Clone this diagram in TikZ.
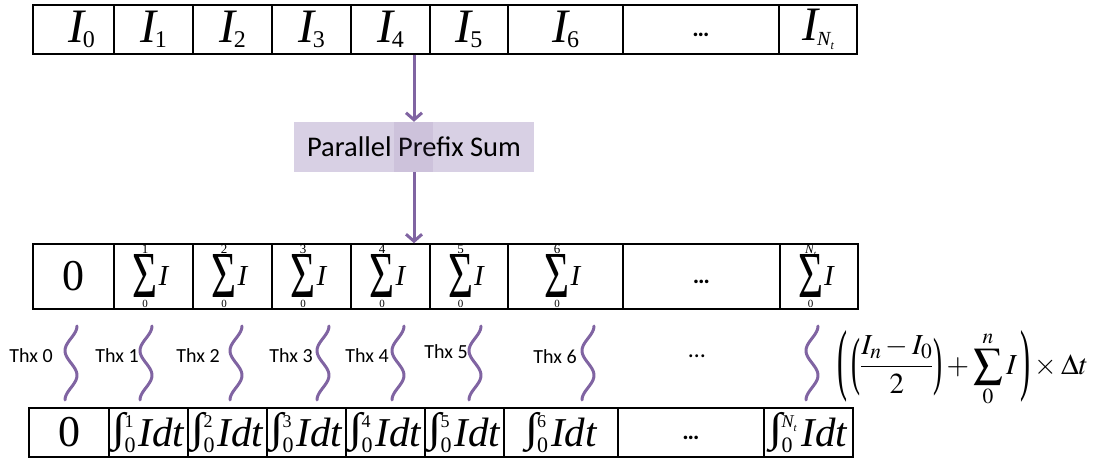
\documentclass[tikz,border=0pt]{standalone}
\usepackage{mathptmx}
\usepackage{fontspec}
\usepackage{graphicx}
\setmainfont{Liberation Serif}
\newfontfamily\calibri{Carlito}
\usetikzlibrary{arrows.meta}

\definecolor{accent}{HTML}{8064A2}
\definecolor{boxfill}{RGB}{216,208,228}

% font size shortcut
\newcommand\fs[1]{\fontsize{#1}{#1}\selectfont}

% I with a subscript
\newcommand\Ival[1]{{\fs{48}\itshape I}\kern-1pt\raisebox{-5pt}{\fs{24}#1}}

% N with t subscript: N size, t size, t drop
\newcommand\Nt[3]{{\itshape\fs{#1}N}\raisebox{-#3pt}{\itshape\fs{#2}t}}

% tall summation sign and integral sign, sitting on the baseline
\newcommand\bigsum{\resizebox{25pt}{43pt}{\raisebox{\depth}{Σ}}}
\newcommand\bigint{\resizebox{13pt}{40pt}{\raisebox{\depth}{∫}}}

% stretched parenthesis centred on the math axis
\newcommand\tallparen[3]{\vcenter{\hbox{\resizebox{#1}{#2}{\raisebox{\depth}{#3}}}}}

% partial sum: sigma, upper limit, lower limit 0, then I
\newcommand\Sumval[1]{%
  \raisebox{-12pt}{\bigsum}%
  \llap{\makebox[25pt]{\raisebox{32pt}{\fs{13}#1}}}%
  \llap{\makebox[25pt]{\raisebox{-22pt}{\fs{11}0}}}%
  \kern1pt{\fs{29}\itshape I}\kern6pt}

% definite integral from 0 to #2 of I dt; #1 = width of the limits
\newcommand\Intval[2][12pt]{%
  \raisebox{-6pt}{\bigint}%
  \kern-1pt
  \makebox[#1][l]{\rlap{\raisebox{19pt}{\fs{18}#2}}\raisebox{-6pt}{\fs{22}0}}%
  \kern2pt{\fs{41}\itshape Idt}}

\begin{document}
\begin{tikzpicture}[x=1pt,y=-1pt,
  cell/.style={draw=black, line width=1.5pt, inner sep=0pt},
  dots/.style={font=\calibri\bfseries\fs{24}},
  thx/.style={font=\calibri\fs{20}, inner sep=0pt},
  thread/.style={draw=accent, line width=3pt, line cap=round},
  flow/.style={draw=accent, line width=3pt, -{Straight Barb[length=7pt,width=16pt]}},
  stage/.style={fill=boxfill, inner sep=0pt, font=\calibri\fs{28.5}}]
\useasboundingbox (0,0) rectangle (1107,462);

% input samples
\node[cell, minimum width=81pt, minimum height=49pt] (i0) at (73.5,29.5) {\hspace*{16pt}\Ival{0}};
\node[cell, minimum width=79pt, minimum height=49pt] (i1) at (153.5,29.5) {\Ival{1}};
\node[cell, minimum width=79pt, minimum height=49pt] (i2) at (232.5,29.5) {\Ival{2}};
\node[cell, minimum width=79pt, minimum height=49pt] (i3) at (311.5,29.5) {\Ival{3}};
\node[cell, minimum width=79pt, minimum height=49pt] (i4) at (390.5,29.5) {\Ival{4}};
\node[cell, minimum width=78pt, minimum height=49pt] (i5) at (469,29.5) {\Ival{5}};
\node[cell, minimum width=115pt, minimum height=49pt] (i6) at (565.5,29.5) {\Ival{6}};
\node[cell, minimum width=156pt, minimum height=49pt, dots] (i7) at (701,29.5) {\rule{0pt}{14pt}…};
\node[cell, minimum width=78pt, minimum height=49pt] (i8) at (818,29.5) {\Ival{\Nt{20}{12}{4}}};

% scan stage
\node[stage, minimum width=240pt, minimum height=50pt] (pps) at (414,147) {Parallel Prefix Sum};
\fill[accent, opacity=0.12] ([xshift=-20pt]pps.north) rectangle ([xshift=19pt]pps.south);

% prefix sums
\node[cell, minimum width=81pt, minimum height=65pt] (s0) at (73.5,276.5) {\fs{44}0};
\node[cell, minimum width=79pt, minimum height=65pt] (s1) at (153.5,276.5) {\Sumval{1}};
\node[cell, minimum width=79pt, minimum height=65pt] (s2) at (232.5,276.5) {\Sumval{2}};
\node[cell, minimum width=79pt, minimum height=65pt] (s3) at (311.5,276.5) {\Sumval{3}};
\node[cell, minimum width=79pt, minimum height=65pt] (s4) at (390.5,276.5) {\Sumval{4}};
\node[cell, minimum width=78pt, minimum height=65pt] (s5) at (469,276.5) {\Sumval{5}};
\node[cell, minimum width=115pt, minimum height=65pt] (s6) at (565.5,276.5) {\Sumval{6}};
\node[cell, minimum width=157pt, minimum height=65pt, dots] (s7) at (701.5,276.5) {\rule{0pt}{14pt}…};
\node[cell, minimum width=78pt, minimum height=65pt] (s8) at (819,276.5) {\Sumval{\Nt{13}{8}{3}}};

% connectors
\draw[flow] (pps.north |- i4.south) -- (pps.north);
\draw[flow] (pps.south) -- (pps.south |- s4.north);

% threads
\foreach \x in {71,146,236,323,398,475,588,812}
  \draw[thread] plot[domain=0:1, samples=41, smooth, variable=\t]
    ({\x+6*cos(540*\t)}, {326+74*\t});
\node[thx] (th0) at (31,356) {Thx 0};
\node[thx] (th1) at (117,356) {Thx 1};
\node[thx] (th2) at (198,356) {Thx 2};
\node[thx] (th3) at (291,356) {Thx 3};
\node[thx] (th4) at (367,356) {Thx 4};
\node[thx] (th5) at (446,352) {Thx 5};
\node[thx] (th6) at (555,357) {Thx 6};
\node[font=\calibri\fs{24}] (mid) at (697,356) {…};
\node[inner sep=0pt, font=\fs{29}] (rule) at (963,369)
  {$\displaystyle\tallparen{10pt}{72pt}{(}\,\tallparen{9pt}{58pt}{(}\frac{I_n-I_0}{2}\tallparen{9pt}{58pt}{)}+\sum_0^n I\,\tallparen{10pt}{72pt}{)}\times\Delta t$};

% integrals
\node[cell, minimum width=80pt, minimum height=49pt] (r0) at (69,432.5) {\fs{44}0};
\node[cell, minimum width=79pt, minimum height=49pt] (r1) at (148.5,432.5) {\Intval{1}};
\node[cell, minimum width=79pt, minimum height=49pt] (r2) at (227.5,432.5) {\Intval{2}};
\node[cell, minimum width=79pt, minimum height=49pt] (r3) at (306.5,432.5) {\Intval{3}};
\node[cell, minimum width=79pt, minimum height=49pt] (r4) at (385.5,432.5) {\Intval{4}};
\node[cell, minimum width=79pt, minimum height=49pt] (r5) at (464.5,432.5) {\Intval{5}};
\node[cell, minimum width=114pt, minimum height=49pt] (r6) at (561,432.5) {\Intval{6}};
\node[cell, minimum width=146pt, minimum height=49pt, dots] (r7) at (691,432.5) {\rule{0pt}{14pt}…};
\node[cell, minimum width=89pt, minimum height=49pt] (r8) at (808.5,432.5) {\Intval[18pt]{\Nt{18}{11}{4}}};
\end{tikzpicture}
\end{document}
